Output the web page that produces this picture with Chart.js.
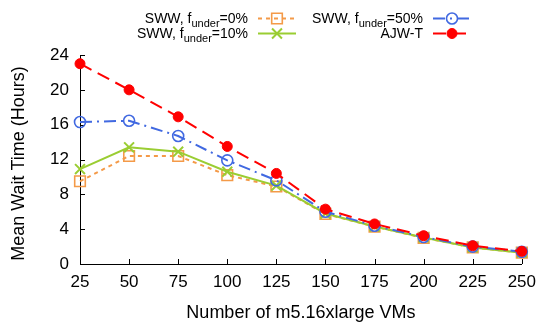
<!DOCTYPE html>
<html>
<head>
<meta charset="utf-8">
<script src="https://cdn.jsdelivr.net/npm/chart.js@4/dist/chart.umd.min.js"></script>
<style>
  html, body { margin: 0; padding: 0; background: #ffffff; }
  #wrap { width: 546px; height: 322px; }
</style>
</head>
<body>
<div id="wrap"><canvas id="c" width="546" height="322"></canvas></div>
<script>
// ---- data ----
const vmCounts = ['25', '50', '75', '100', '125', '150', '175', '200', '225', '250'];
const ajwT     = [23.0, 20.0, 16.9, 13.5, 10.4, 6.3, 4.6, 3.25, 2.1, 1.45];
const sww50    = [16.3, 16.45, 14.7, 11.9, 9.6, 6.0, 4.4, 3.1, 2.0, 1.4];
const sww10    = [10.9, 13.4, 12.9, 10.6, 9.0, 5.8, 4.3, 3.05, 1.9, 1.3];
const sww0     = [9.5, 12.4, 12.4, 10.2, 8.9, 5.75, 4.3, 3.0, 1.9, 1.3];
const yTicks   = [0, 4, 8, 12, 16, 20, 24];
const namePre  = ['AJW-T', 'SWW, f', 'SWW, f', 'SWW, f'];
const nameSub  = ['', 'under', 'under', 'under'];
const namePost = ['', '=50%', '=10%', '=0%'];
const xTitle = 'Number of m5.16xlarge VMs';
const yTitle = 'Mean Wait Time (Hours)';

const FONT = "'Liberation Sans', Arial, Helvetica, sans-serif";

const datasets = [
  { label: namePre[0] + nameSub[0] + namePost[0], data: ajwT,
    borderColor: '#ff0000', backgroundColor: '#ff0000', borderWidth: 2, borderDash: [13, 7],
    pointStyle: 'circle', pointRadius: 5, pointBorderWidth: 1, pointBackgroundColor: '#ff0000', pointBorderColor: '#ff0000' },
  { label: namePre[1] + nameSub[1] + namePost[1], data: sww50,
    borderColor: '#4169e1', backgroundColor: 'rgba(0,0,0,0)', borderWidth: 2, borderDash: [12, 5, 2, 5],
    pointStyle: 'circle', pointRadius: 5.5, pointBorderWidth: 1.6, pointBackgroundColor: 'rgba(0,0,0,0)', pointBorderColor: '#4169e1' },
  { label: namePre[2] + nameSub[2] + namePost[2], data: sww10,
    borderColor: '#9acd32', backgroundColor: '#9acd32', borderWidth: 2, borderDash: [],
    pointStyle: 'crossRot', pointRadius: 7, pointBorderWidth: 2, pointBackgroundColor: '#9acd32', pointBorderColor: '#9acd32' },
  { label: namePre[3] + nameSub[3] + namePost[3], data: sww0,
    borderColor: '#f49a48', backgroundColor: 'rgba(0,0,0,0)', borderWidth: 2, borderDash: [4, 4],
    pointStyle: 'rect', pointRadius: 7.5, pointBorderWidth: 1.6, pointBackgroundColor: 'rgba(0,0,0,0)', pointBorderColor: '#f49a48' }
].map(d => Object.assign(d, { fill: false, tension: 0, clip: false, pointHoverRadius: d.pointRadius }));

// legend placement: [datasetIndex, textRight, sampleStart, sampleEnd, baselineY]
const legendSlots = [
  [3, 248, 258, 296, 23],
  [2, 248, 258, 296, 38],
  [1, 423, 433, 471, 23],
  [0, 423, 433, 471, 38]
];

function drawMarker(ctx, ds, x, y) {
  const opts = { pointStyle: ds.pointStyle, radius: ds.pointRadius, rotation: 0, borderWidth: ds.pointBorderWidth };
  ctx.save();
  ctx.setLineDash([]);
  ctx.fillStyle = ds.pointBackgroundColor;
  ctx.strokeStyle = ds.pointBorderColor;
  ctx.lineWidth = ds.pointBorderWidth;
  Chart.helpers.drawPoint(ctx, opts, x, y);
  ctx.restore();
}

const customPlugin = {
  id: 'custom',
  beforeDatasetsDraw(chart) {
    const ctx = chart.ctx;
    const xs = chart.scales.x, ys = chart.scales.y;
    const a = chart.chartArea;
    ctx.save();
    ctx.strokeStyle = '#000';
    ctx.lineWidth = 1;
    ctx.beginPath();
    xs.ticks.forEach((t, i) => {
      const px = Math.round(xs.getPixelForTick(i)) + 0.5;
      ctx.moveTo(px, a.bottom);
      ctx.lineTo(px, a.bottom - 5);
    });
    ys.ticks.forEach((t, i) => {
      const py = Math.round(ys.getPixelForTick(i)) + 0.5;
      ctx.moveTo(a.left, py);
      ctx.lineTo(a.left + 5, py);
    });
    ctx.stroke();
    // y axis title
    ctx.fillStyle = '#000';
    ctx.font = '18px ' + FONT;
    ctx.textAlign = 'center';
    ctx.textBaseline = 'middle';
    ctx.translate(19, (a.top + a.bottom) / 2 + 4);
    ctx.rotate(-Math.PI / 2);
    ctx.fillText(yTitle, 0, 0);
    ctx.restore();
  },
  afterDraw(chart) {
    const ctx = chart.ctx;
    ctx.save();
    legendSlots.forEach(([di, textRight, s0, s1, base]) => {
      const ds = chart.data.datasets[di];
      const mainFont = '14px ' + FONT;
      const subFont = '11px ' + FONT;
      ctx.font = mainFont;
      const wPre = ctx.measureText(namePre[di]).width;
      const wPost = ctx.measureText(namePost[di]).width;
      ctx.font = subFont;
      const wSub = ctx.measureText(nameSub[di]).width;
      let x = textRight - (wPre + wSub + wPost);
      ctx.fillStyle = '#000';
      ctx.textBaseline = 'alphabetic';
      ctx.textAlign = 'left';
      ctx.font = mainFont;
      ctx.fillText(namePre[di], x, base);
      x += wPre;
      ctx.font = subFont;
      ctx.fillText(nameSub[di], x, base + 4);
      x += wSub;
      ctx.font = mainFont;
      ctx.fillText(namePost[di], x, base);
      // sample line
      const ly = base - 4.5;
      ctx.save();
      ctx.strokeStyle = ds.borderColor;
      ctx.lineWidth = ds.borderWidth;
      ctx.setLineDash(ds.borderDash || []);
      ctx.beginPath();
      ctx.moveTo(s0, ly);
      ctx.lineTo(s1, ly);
      ctx.stroke();
      ctx.restore();
      drawMarker(ctx, ds, (s0 + s1) / 2, ly);
    });
    ctx.restore();
  }
};

new Chart(document.getElementById('c'), {
  type: 'line',
  data: { labels: vmCounts, datasets: datasets },
  options: {
    responsive: false,
    animation: false,
    devicePixelRatio: 1,
    layout: { padding: { top: 55, right: 15, left: 0, bottom: 0 } },
    plugins: { legend: { display: false }, tooltip: { enabled: false } },
    scales: {
      x: {
        type: 'category',
        offset: false,
        grid: { display: true, drawOnChartArea: false, drawTicks: false },
        border: { display: true, color: '#000', width: 1 },
        ticks: { color: '#000', font: { family: FONT, size: 17, lineHeight: 1 }, padding: 10, maxRotation: 0, autoSkip: false },
        title: { display: true, text: xTitle, color: '#000', font: { family: FONT, size: 18, lineHeight: 1 }, padding: { top: 0, bottom: 0 } },
        afterFit(scale) { scale.height = 58; }
      },
      y: {
        min: 0, max: 24,
        grid: { display: true, drawOnChartArea: false, drawTicks: false },
        border: { display: true, color: '#000', width: 1 },
        afterBuildTicks(scale) { scale.ticks = yTicks.map(v => ({ value: v })); },
        ticks: { color: '#000', font: { family: FONT, size: 17, lineHeight: 1 }, padding: 11 },
        title: { display: false },
        afterFit(scale) { scale.width = 80; }
      }
    }
  },
  plugins: [customPlugin]
});
</script>
</body>
</html>
